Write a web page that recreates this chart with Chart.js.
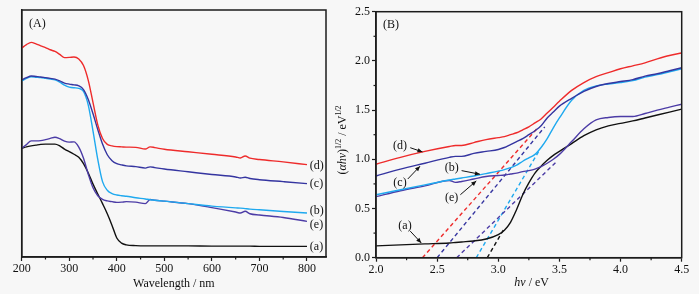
<!DOCTYPE html>
<html><head><meta charset="utf-8">
<script src="https://cdn.jsdelivr.net/npm/chart.js@4.4.1/dist/chart.umd.min.js"></script>
<style>
html,body{margin:0;padding:0;background:#fff;}
#wrap{position:relative;width:699px;height:294px;background:#f7f7f7;overflow:hidden}
canvas{position:absolute;top:0}
</style></head><body>
<div id="wrap">
<canvas id="cA" width="335" height="294" style="left:0"></canvas>
<canvas id="cB" width="364" height="294" style="left:335px"></canvas>
</div>
<script>
// ---------------- Data: panel (A) UV-vis spectra ----------------
const wavelength = [200,210,220,230,240,250,260,270,280,290,300,310,320,330,340,350,360,370,380,390,400,410,420,440,460,470,480,500,550,600,650,660,670,680,700,750,800];
const absA_a = [44.0,44.6,45.0,45.3,45.6,45.7,45.7,45.7,45.0,43.7,42.7,41.6,40.4,37.8,34.0,29.5,25.5,21.6,17.5,12.8,7.7,5.6,4.9,4.6,4.5,4.5,4.5,4.5,4.5,4.4,4.4,4.4,4.4,4.4,4.3,4.3,4.3];
const absA_b = [71.3,72.3,73.0,72.8,72.6,72.3,72.0,71.7,70.8,69.6,68.8,68.5,68.3,67.0,61.5,51.0,39.5,30.5,27.0,25.7,25.1,24.8,24.6,24.0,23.5,23.2,23.0,22.6,21.6,20.6,19.9,19.8,19.6,19.4,19.1,18.4,17.8];
const absA_c = [71.7,72.6,73.3,73.1,72.9,72.6,72.3,72.0,71.3,70.4,70.0,69.7,69.3,67.8,63.8,58.0,51.6,45.7,41.4,39.0,37.8,37.3,36.9,36.6,36.0,36.5,36.2,35.6,34.5,33.4,32.4,32.0,32.3,31.8,31.3,30.5,29.7];
const absA_d = [84.6,86.0,86.9,86.3,85.5,84.8,83.9,83.2,82.0,80.7,80.8,81.0,80.2,77.5,71.5,62.5,53.5,48.0,45.6,45.0,44.7,44.6,44.5,44.4,43.7,44.6,44.3,43.6,42.6,41.6,40.5,40.1,40.9,40.0,39.5,38.5,37.4];
const absA_e = [44.0,45.5,47.0,47.0,47.1,47.5,48.0,48.5,47.9,46.9,46.5,46.6,44.5,40.0,33.5,28.0,24.8,23.3,22.7,22.4,22.1,22.2,22.4,22.2,21.6,23.3,23.0,22.6,21.6,20.0,18.2,17.8,18.5,17.5,17.0,16.0,14.4];
const wavelengthTicks = [200,300,400,500,600,700,800];

// ---------------- Data: panel (B) Tauc plot ----------------
const energy = [2.0,2.2,2.4,2.6,2.65,2.7,2.8,2.9,3.0,3.05,3.1,3.15,3.2,3.25,3.3,3.35,3.4,3.45,3.5,3.6,3.7,3.8,3.9,4.0,4.1,4.2,4.3,4.4,4.5];
const tauc_a = [0.12,0.13,0.14,0.15,0.155,0.16,0.17,0.19,0.235,0.28,0.36,0.49,0.64,0.76,0.86,0.93,0.99,1.04,1.08,1.16,1.24,1.30,1.34,1.365,1.39,1.42,1.45,1.48,1.51];
const tauc_b = [0.64,0.69,0.74,0.79,0.80,0.81,0.83,0.855,0.88,0.895,0.915,0.94,0.98,1.015,1.05,1.12,1.21,1.32,1.42,1.60,1.70,1.745,1.765,1.78,1.80,1.835,1.86,1.89,1.92];
const tauc_c = [0.83,0.90,0.96,1.02,1.03,1.03,1.06,1.08,1.10,1.12,1.15,1.18,1.21,1.25,1.29,1.34,1.42,1.48,1.54,1.62,1.69,1.74,1.77,1.79,1.81,1.845,1.87,1.90,1.93];
const tauc_d = [0.95,1.02,1.08,1.13,1.14,1.14,1.17,1.20,1.22,1.23,1.25,1.27,1.30,1.33,1.37,1.41,1.47,1.53,1.59,1.70,1.78,1.84,1.88,1.92,1.95,1.98,2.02,2.055,2.08];
const tauc_e = [0.62,0.68,0.73,0.785,0.765,0.775,0.80,0.825,0.835,0.84,0.85,0.86,0.875,0.885,0.90,0.925,0.96,1.00,1.05,1.18,1.31,1.40,1.425,1.435,1.435,1.465,1.50,1.53,1.56];
// extrapolated tangent lines (x-intercept = band gap)
const tangent_a_x = [2.91, 3.05], tangent_a_y = [0, 0.30];
const tangent_b_x = [2.82, 3.34], tangent_b_y = [0, 1.10];
const tangent_c_x = [2.50, 3.38], tangent_c_y = [0, 1.33];
const tangent_d_x = [2.38, 3.33], tangent_d_y = [0, 1.33];
const tangent_e_x = [2.66, 3.48], tangent_e_y = [0, 0.98];
const energyTicks = [2.0,2.5,3.0,3.5,4.0,4.5];
const taucTicks = [0.0,0.5,1.0,1.5,2.0,2.5];
const seriesLabels = ['(a)','(b)','(c)','(d)','(e)'];

// ---------------- Styles ----------------
const FONT = '"Liberation Serif", "Times New Roman", serif';
const AX = '#1c1c1c';
const COL = {a:'#111111', b:'#1fa9ef', c:'#3535a0', d:'#ee2b2b', e:'#4c3ca6'};
Chart.defaults.font.family = FONT;
Chart.defaults.color = '#111';

function pts(xs, ys){ return xs.map((x,i)=>({x:x, y:ys[i]})); }
function curve(xs, ys, color, order){
  return {data: pts(xs, ys), borderColor: color, borderWidth: 1.4, pointRadius: 0, fill: false,
          cubicInterpolationMode: 'monotone', order: order};
}
function dashed(xs, ys, color){
  return {data: pts(xs, ys), borderColor: color, borderWidth: 1.4, pointRadius: 0, fill: false,
          borderDash: [4,3], tension: 0, order: 10};
}

function drawSegments(ctx, segs, size){
  // returns total width; draws if ctx.__draw
  let w = 0;
  segs.forEach(s => {
    const fs = s.sup ? size*0.66 : size;
    ctx.font = (s.it ? 'italic ' : '') + fs + 'px ' + FONT;
    w += ctx.measureText(s.t).width;
  });
  return w;
}
function paintSegments(ctx, segs, size, x0, y0){
  let x = x0;
  segs.forEach(s => {
    const fs = s.sup ? size*0.66 : size;
    ctx.font = (s.it ? 'italic ' : '') + fs + 'px ' + FONT;
    ctx.fillText(s.t, x, s.sup ? y0 - size*0.38 : y0);
    x += ctx.measureText(s.t).width;
  });
}

const framePlugin = {
  id: 'frame',
  afterDatasetsDraw(chart, args, opts){
    const {ctx, chartArea: a} = chart;
    ctx.save();
    ctx.strokeStyle = AX; ctx.lineWidth = 1.5;
    ctx.strokeRect(a.left, a.top, a.right - a.left, a.bottom - a.top);
    ctx.lineWidth = 1.2;
    const sx = chart.scales.x, sy = chart.scales.y;
    (opts.minorX || []).forEach(v => {
      const p = sx.getPixelForValue(v);
      ctx.beginPath(); ctx.moveTo(p, a.bottom); ctx.lineTo(p, a.bottom + 2.5); ctx.stroke();
    });
    (opts.minorY || []).forEach(v => {
      const p = sy.getPixelForValue(v);
      ctx.beginPath(); ctx.moveTo(a.left, p); ctx.lineTo(a.left - 2.5, p); ctx.stroke();
    });
    ctx.restore();
  }
};

function arrow(ctx, x1, y1, x2, y2){
  ctx.beginPath(); ctx.moveTo(x1, y1); ctx.lineTo(x2, y2); ctx.stroke();
  const ang = Math.atan2(y2 - y1, x2 - x1), L = 5, W = 2.2;
  ctx.beginPath();
  ctx.moveTo(x2, y2);
  ctx.lineTo(x2 - L*Math.cos(ang) + W*Math.sin(ang), y2 - L*Math.sin(ang) - W*Math.cos(ang));
  ctx.lineTo(x2 - L*Math.cos(ang) - W*Math.sin(ang), y2 - L*Math.sin(ang) + W*Math.cos(ang));
  ctx.closePath(); ctx.fill();
}

const annotPlugin = {
  id: 'annot',
  afterDraw(chart, args, opts){
    const {ctx} = chart;
    const sx = chart.scales.x, sy = chart.scales.y;
    ctx.save();
    ctx.fillStyle = '#111'; ctx.strokeStyle = '#111'; ctx.lineWidth = 1;
    ctx.font = '12px ' + FONT; ctx.textBaseline = 'middle';
    if (opts.panel) { ctx.textAlign = 'left'; ctx.fillText(opts.panel.t, opts.panel.x, opts.panel.y); }
    (opts.labels || []).forEach(l => {
      ctx.font = '12px ' + FONT;
      ctx.textAlign = l.align || 'center';
      ctx.fillText(l.t, sx.getPixelForValue(l.x), sy.getPixelForValue(l.y));
      if (l.arrow) {
        const A = l.arrow;
        arrow(ctx, sx.getPixelForValue(A[0]), sy.getPixelForValue(A[1]), sx.getPixelForValue(A[2]), sy.getPixelForValue(A[3]));
      }
    });
    if (opts.xTitle) {
      const w = drawSegments(ctx, opts.xTitle.segs, 12);
      ctx.textAlign = 'left'; ctx.textBaseline = 'middle';
      paintSegments(ctx, opts.xTitle.segs, 12, opts.xTitle.cx - w/2, opts.xTitle.cy);
    }
    if (opts.yTitle) {
      const w = drawSegments(ctx, opts.yTitle.segs, 12);
      ctx.translate(opts.yTitle.cx, opts.yTitle.cy); ctx.rotate(-Math.PI/2);
      ctx.textAlign = 'left'; ctx.textBaseline = 'middle';
      paintSegments(ctx, opts.yTitle.segs, 12, -w/2, 0);
    }
    ctx.restore();
  }
};

// ---------------- Panel A ----------------
new Chart(document.getElementById('cA'), {
  type: 'line',
  data: { datasets: [
    curve(wavelength, absA_d, COL.d, 1),
    curve(wavelength, absA_c, COL.c, 2),
    curve(wavelength, absA_b, COL.b, 3),
    curve(wavelength, absA_e, COL.e, 4),
    curve(wavelength, absA_a, COL.a, 5)
  ]},
  options: {
    responsive: false, devicePixelRatio: 1, animation: false,
    layout: { padding: {left: 0, top: 10, right: 9, bottom: 0} },
    plugins: { legend: {display: false}, tooltip: {enabled: false},
      frame: { minorX: [250,350,450,550,650,750] },
      annot: {
        panel: {t: '(A)', x: 29, y: 24},
        labels: [
          {t: seriesLabels[3], x: 806, y: 37.0, align: 'left'},
          {t: seriesLabels[2], x: 806, y: 29.6, align: 'left'},
          {t: seriesLabels[1], x: 806, y: 18.6, align: 'left'},
          {t: seriesLabels[4], x: 806, y: 13.0, align: 'left'},
          {t: seriesLabels[0], x: 806, y: 4.2, align: 'left'}
        ]
      }
    },
    scales: {
      x: { type: 'linear', min: 200, max: 840,
        afterBuildTicks: s => { s.ticks = wavelengthTicks.map(v => ({value: v})); },
        afterFit: s => { s.height = 37; },
        grid: {display: true, drawOnChartArea: false, drawTicks: true, tickLength: 4, color: AX, tickWidth: 1.2},
        border: {display: true, color: AX, width: 1.5},
        ticks: {font: {size: 12}, color: '#111', padding: 1, maxRotation: 0, autoSkip: false},
        title: {display: true, text: 'Wavelength / nm', font: {size: 12}, color: '#111', padding: {top: 0, bottom: 3}}
      },
      y: { type: 'linear', min: 0, max: 100,
        afterFit: s => { s.width = 21.7; },
        grid: {display: false},
        border: {display: true, color: AX, width: 1.5},
        ticks: {display: false}
      }
    }
  },
  plugins: [framePlugin, annotPlugin]
});

// ---------------- Panel B ----------------
new Chart(document.getElementById('cB'), {
  type: 'line',
  data: { datasets: [
    curve(energy, tauc_d, COL.d, 1),
    curve(energy, tauc_c, COL.c, 2),
    curve(energy, tauc_b, COL.b, 3),
    curve(energy, tauc_e, COL.e, 4),
    curve(energy, tauc_a, COL.a, 5),
    dashed(tangent_d_x, tangent_d_y, COL.d),
    dashed(tangent_c_x, tangent_c_y, COL.c),
    dashed(tangent_e_x, tangent_e_y, COL.e),
    dashed(tangent_b_x, tangent_b_y, COL.b),
    dashed(tangent_a_x, tangent_a_y, COL.a)
  ]},
  options: {
    responsive: false, devicePixelRatio: 1, animation: false,
    layout: { padding: {left: 0, top: 11.7, right: 17.3, bottom: 0} },
    plugins: { legend: {display: false}, tooltip: {enabled: false},
      frame: { minorX: [2.25,2.75,3.25,3.75,4.25], minorY: [0.25,0.75,1.25,1.75,2.25] },
      annot: {
        panel: {t: '(B)', x: 48, y: 25},
        labels: [
          {t: seriesLabels[3], x: 2.196, y: 1.138, arrow: [2.28, 1.118, 2.38, 1.075]},
          {t: seriesLabels[2], x: 2.196, y: 0.762, arrow: [2.26, 0.80, 2.36, 0.93]},
          {t: seriesLabels[1], x: 2.619, y: 0.909, arrow: [2.70, 0.885, 2.85, 0.848]},
          {t: seriesLabels[4], x: 2.619, y: 0.604, arrow: [2.69, 0.64, 2.82, 0.78]},
          {t: seriesLabels[0], x: 2.237, y: 0.325, arrow: [2.28, 0.27, 2.37, 0.15]}
        ],
        xTitle: {cx: 196.7, cy: 283, segs: [{t: 'hν', it: true}, {t: ' / eV'}]},
        yTitle: {cx: 8, cy: 140, segs: [{t: '('}, {t: 'αhν', it: true}, {t: ')'}, {t: '1/2', sup: true}, {t: ' / eV'}, {t: '1/2', sup: true}]}
      }
    },
    scales: {
      x: { type: 'linear', min: 2.0, max: 4.5,
        afterBuildTicks: s => { s.ticks = energyTicks.map(v => ({value: v})); },
        afterFit: s => { s.height = 36.3; },
        grid: {display: true, drawOnChartArea: false, drawTicks: true, tickLength: 4, color: AX, tickWidth: 1.2},
        border: {display: true, color: AX, width: 1.5},
        ticks: {font: {size: 12}, color: '#111', padding: 1, maxRotation: 0, autoSkip: false, callback: v => v.toFixed(1)}
      },
      y: { type: 'linear', min: 0, max: 2.5,
        afterBuildTicks: s => { s.ticks = taucTicks.map(v => ({value: v})); },
        afterFit: s => { s.width = 41; },
        grid: {display: true, drawOnChartArea: false, drawTicks: true, tickLength: 4, color: AX, tickWidth: 1.2},
        border: {display: true, color: AX, width: 1.5},
        ticks: {font: {size: 12}, color: '#111', padding: 2, autoSkip: false, callback: v => v.toFixed(1)}
      }
    }
  },
  plugins: [framePlugin, annotPlugin]
});
</script>
</body></html>
